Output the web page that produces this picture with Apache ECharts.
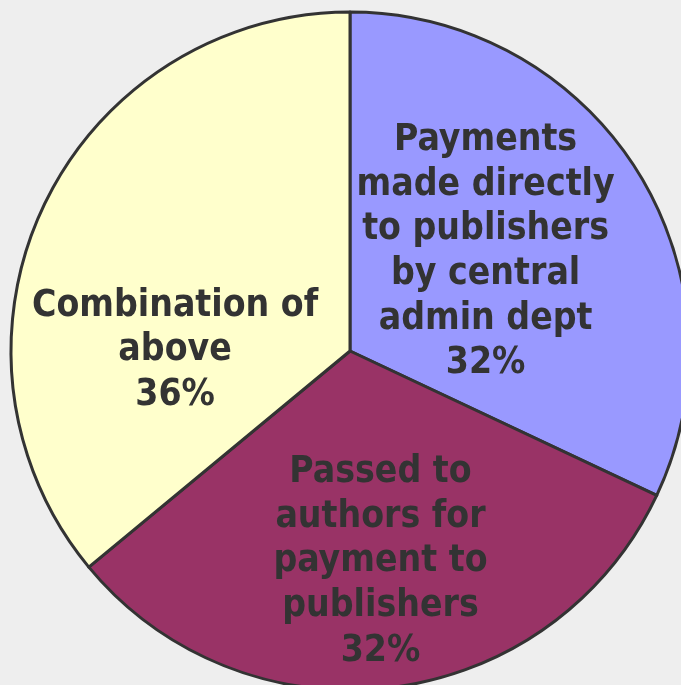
<!DOCTYPE html>
<html>
<head>
<meta charset="utf-8">
<style>
  html, body { margin: 0; padding: 0; background: #eeeeee; }
  #chart { width: 681px; height: 685px; }
</style>
<script src="https://cdn.jsdelivr.net/npm/echarts@6/dist/echarts.min.js"></script>
</head>
<body>
<div id="chart"></div>
<script>
// Payment routes and their shares
var categories = [
  'Payments\nmade directly\nto publishers\nby central\nadmin dept',
  'Passed to\nauthors for\npayment to\npublishers',
  'Combination of\nabove'
];
var shares = [32, 32, 36];
var sliceColors = ['#9999FF', '#993366', '#FFFFCC'];

// Label anchor offsets from the pie centre, as fractions of the radius
var labelOffsets = [[0.40, -0.292], [0.09, 0.622], [-0.516, -0.001]];

var cx = 350, cy = 351, radius = 339;

var chart = echarts.init(document.getElementById('chart'), null, { renderer: 'canvas' });

chart.setOption({
  backgroundColor: '#eeeeee',
  animation: false,
  series: [{
    type: 'pie',
    center: [cx, cy],
    radius: radius,
    startAngle: 90,
    clockwise: true,
    silent: true,
    itemStyle: { borderColor: '#333333', borderWidth: 3 },
    label: {
      show: true,
      position: 'inside',
      formatter: function (p) { return p.name + '\n' + p.value + '%'; },
      fontFamily: '"DejaVu Sans Condensed", "DejaVu Sans", sans-serif',
      fontWeight: 'bold',
      fontSize: 37,
      lineHeight: 44.6,
      color: '#333333',
      align: 'center'
    },
    labelLine: { show: false },
    labelLayout: function (params) {
      var o = labelOffsets[params.dataIndex];
      return {
        x: cx + o[0] * radius,
        y: cy + o[1] * radius,
        align: 'center',
        verticalAlign: 'middle'
      };
    },
    data: categories.map(function (name, i) {
      return { name: name, value: shares[i], itemStyle: { color: sliceColors[i] } };
    })
  }]
});
</script>
</body>
</html>
